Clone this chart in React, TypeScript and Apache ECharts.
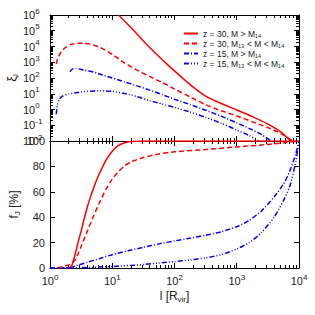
import React, { useEffect, useRef } from 'react';
import * as echarts from 'echarts';

// ---------- data ----------
const seriesNames = [
  'z = 30, M > M₁₄',
  'z = 30, M₁₃ < M < M₁₄',
  'z = 15, M > M₁₄',
  'z = 15, M₁₃ < M < M₁₄',
];
const seriesColors = ['#ff0000', '#ff0000', '#0000ff', '#0000ff'];

// top panel: log10(l / R_vir) and log10(xi_l)
const xiZ30HighLogL = [1.10, 1.3, 1.5, 1.7, 1.9, 2.1, 2.3, 2.5, 2.75, 3.0, 3.25, 3.5, 3.7, 3.87];
const xiZ30HighLogXi = [6.0, 5.2, 4.35, 3.55, 2.8, 2.1, 1.42, 0.85, 0.38, -0.03, -0.45, -0.93, -1.4, -2.0];

const xiZ30LowLogL = [0.10, 0.13, 0.18, 0.25, 0.35, 0.45, 0.55, 0.65, 0.8, 1.0, 1.2, 1.4, 1.6, 1.8, 2.0, 2.25, 2.5, 2.75, 3.0, 3.25, 3.5, 3.7, 3.9];
const xiZ30LowLogXi = [2.9, 3.3, 3.65, 3.95, 4.15, 4.2, 4.2, 4.15, 3.95, 3.5, 2.95, 2.5, 2.1, 1.72, 1.3, 0.8, 0.3, -0.08, -0.41, -0.78, -1.15, -1.5, -2.0];

const xiZ15HighLogL = [0.32, 0.36, 0.42, 0.55, 0.7, 0.85, 1.0, 1.2, 1.4, 1.6, 1.8, 2.0, 2.25, 2.5, 2.75, 3.0, 3.2, 3.4, 3.55];
const xiZ15HighLogXi = [2.4, 2.58, 2.6, 2.5, 2.38, 2.18, 2.0, 1.75, 1.5, 1.23, 0.95, 0.65, 0.32, -0.05, -0.42, -0.85, -1.2, -1.6, -2.0];

const xiZ15LowLogL = [0.10, 0.12, 0.15, 0.2, 0.3, 0.45, 0.6, 0.8, 1.0, 1.2, 1.4, 1.6, 1.8, 2.0, 2.25, 2.5, 2.75, 3.0, 3.2, 3.35];
const xiZ15LowLogXi = [-0.3, 0.3, 0.65, 0.85, 0.98, 1.08, 1.15, 1.19, 1.15, 1.02, 0.82, 0.56, 0.35, 0.13, -0.16, -0.5, -0.87, -1.3, -1.65, -2.0];

// bottom panel: log10(l / R_vir) and f_J [%]
const fZ30HighLogL = [0.30, 0.35, 0.40, 0.45, 0.5, 0.55, 0.6, 0.65, 0.7, 0.75, 0.8, 0.9, 1.0, 1.1, 1.2, 1.35, 1.6, 2.5, 3.5, 4.0];
const fZ30High = [0, 2, 10, 20, 29, 39, 48, 56, 63, 69.5, 75, 85, 92, 96.5, 98.7, 99.8, 100, 100, 100, 100];

const fZ30LowLogL = [0.12, 0.2, 0.3, 0.4, 0.45, 0.5, 0.6, 0.7, 0.8, 0.9, 1.0, 1.1, 1.2, 1.3, 1.5, 1.75, 2.0, 2.5, 3.0, 3.5, 3.8, 4.0];
const fZ30Low = [0, 1, 2.5, 6, 11, 17, 29, 41, 52, 62, 70, 76, 80.5, 83.5, 87, 89.8, 91.5, 93.3, 95.3, 97.3, 98.8, 100];

const fZ15HighLogL = [0, 0.3, 0.4, 0.6, 0.8, 1.0, 1.25, 1.5, 1.75, 2.0, 2.25, 2.5, 2.75, 3.0, 3.2, 3.4, 3.6, 3.75, 3.85, 3.95, 4.0];
const fZ15High = [0, 0, 1.5, 4.5, 7.5, 10.5, 13.5, 16.3, 19, 21.3, 23.5, 25.8, 28.5, 32.5, 37.5, 45, 56, 66, 76, 90, 100];

const fZ15LowLogL = [0, 0.5, 1.0, 1.5, 1.75, 2.0, 2.25, 2.5, 2.75, 3.0, 3.2, 3.4, 3.6, 3.75, 3.85, 3.95, 4.0];
const fZ15Low = [0, 0.3, 1.2, 2.7, 3.9, 5, 6.3, 8, 10.5, 15, 20, 28, 40, 53, 64, 84, 100];

// axis ranges / ticks
const xMin = 1;
const xMax = 10000;
const xiMin = 0.01;
const xiMax = 1e6;
const fMin = 0;
const fMax = 100;
const fInterval = 20;

// ---------- helpers ----------
const FONT = 'Liberation Sans, Arial, sans-serif';
const TXT = '#222';
const BLACK = '#000';

const logPairs = (lx: number[], ly: number[]) => lx.map((v, i) => [Math.pow(10, v), Math.pow(10, ly[i])]);
const pairs = (lx: number[], y: number[]) => lx.map((v, i) => [Math.pow(10, v), y[i]]);

const dashes: any[] = ['solid', [5, 3], [5, 2, 1, 2], [5, 2, 1, 2, 1, 2, 1, 2]];

const supRich = {
  b: { fontSize: 11, fontFamily: FONT, color: TXT, lineHeight: 16, verticalAlign: 'middle' },
  s: { fontSize: 8, fontFamily: FONT, color: TXT, lineHeight: 8, verticalAlign: 'top' },
};
const decadeFormatter = (v: number) => {
  const e = Math.round(Math.log10(v));
  return `{b|10}{s|${e}}`;
};

const subRich = (size: number) => ({
  b: { fontSize: size, fontFamily: FONT, color: TXT, lineHeight: 15, verticalAlign: 'middle' },
  s: { fontSize: 8, fontFamily: FONT, color: TXT, lineHeight: 7, verticalAlign: 'bottom' },
});

const lineAxis = { show: true, onZero: false, lineStyle: { color: BLACK, width: 1 } };

function logX(gridIndex: number, position: 'top' | 'bottom', labels: boolean): any {
  return {
    type: 'log',
    logBase: 10,
    gridIndex,
    position,
    min: xMin,
    max: xMax,
    splitNumber: 4,
    axisLine: lineAxis,
    axisTick: { show: true, inside: true, length: 5, lineStyle: { color: BLACK } },
    minorTick: { show: true, splitNumber: 9, length: 3, lineStyle: { color: BLACK } },
    splitLine: { show: false },
    minorSplitLine: { show: false },
    axisLabel: labels
      ? { show: true, margin: 5, formatter: decadeFormatter, rich: supRich }
      : { show: false },
  };
}

export default function App() {
  const ref = useRef<HTMLDivElement>(null);
  useEffect(() => {
    const chart = echarts.init(ref.current!, null, { renderer: 'svg' });

    const topData = [
      logPairs(xiZ30HighLogL, xiZ30HighLogXi),
      logPairs(xiZ30LowLogL, xiZ30LowLogXi),
      logPairs(xiZ15HighLogL, xiZ15HighLogXi),
      logPairs(xiZ15LowLogL, xiZ15LowLogXi),
    ];
    const botData = [
      pairs(fZ30HighLogL, fZ30High),
      pairs(fZ30LowLogL, fZ30Low),
      pairs(fZ15HighLogL, fZ15High),
      pairs(fZ15LowLogL, fZ15Low),
    ];

    const mk = (data: number[][], i: number, panel: number) => ({
      type: 'line',
      name: seriesNames[i],
      xAxisIndex: panel === 0 ? 0 : 2,
      yAxisIndex: panel === 0 ? 0 : 2,
      data,
      symbol: 'none',
      showSymbol: false,
      smooth: 0.2,
      clip: true,
      lineStyle: { color: seriesColors[i], width: 1.5, type: dashes[i] },
      itemStyle: { color: seriesColors[i] },
      z: 5 - i,
    });

    const option: any = {
      animation: false,
      backgroundColor: '#fff',
      textStyle: { fontFamily: FONT },
      grid: [
        { left: 50, top: 15, width: 249, height: 126, containLabel: false, outerBoundsMode: 'none' },
        { left: 50, top: 141, width: 249, height: 127, containLabel: false, outerBoundsMode: 'none' },
      ],
      legend: {
        data: seriesNames,
        orient: 'vertical',
        left: 178,
        top: 24,
        itemWidth: 14,
        itemHeight: 8,
        itemGap: 1,
        itemStyle: { opacity: 0 },
        textStyle: { fontSize: 8.5, color: TXT, fontFamily: FONT },
        backgroundColor: 'transparent',
      },
      xAxis: [
        logX(0, 'bottom', false),
        logX(0, 'top', false),
        {
          ...logX(1, 'bottom', true),
          name: '{b|l [R}{s|vir}{b|]}',
          nameLocation: 'middle',
          nameGap: 20,
          nameMoveOverlap: false,
          nameTextStyle: { rich: subRich(12) },
        },
        logX(1, 'top', false),
      ],
      yAxis: [
        {
          type: 'log',
          logBase: 10,
          gridIndex: 0,
          position: 'left',
          min: xiMin,
          max: xiMax,
          splitNumber: 8,
          axisLine: lineAxis,
          axisTick: { show: true, inside: true, length: 5, lineStyle: { color: BLACK } },
          minorTick: { show: true, splitNumber: 9, length: 3, lineStyle: { color: BLACK } },
          splitLine: { show: false },
          minorSplitLine: { show: false },
          axisLabel: { show: true, align: 'left', margin: 27, formatter: decadeFormatter, rich: supRich },
          name: '{b|ξ}{s|l}',
          nameLocation: 'middle',
          nameRotate: 90,
          nameGap: 31,
          nameMoveOverlap: false,
          nameTextStyle: { rich: subRich(13) },
        },
        {
          type: 'log',
          logBase: 10,
          gridIndex: 0,
          position: 'right',
          min: xiMin,
          max: xiMax,
          splitNumber: 8,
          axisLine: lineAxis,
          axisTick: { show: true, inside: true, length: 5, lineStyle: { color: BLACK } },
          minorTick: { show: true, splitNumber: 9, length: 3, lineStyle: { color: BLACK } },
          splitLine: { show: false },
          minorSplitLine: { show: false },
          axisLabel: { show: false },
        },
        {
          type: 'value',
          gridIndex: 1,
          position: 'left',
          min: fMin,
          max: fMax,
          interval: fInterval,
          axisLine: lineAxis,
          axisTick: { show: true, inside: true, length: 5, lineStyle: { color: BLACK } },
          splitLine: { show: false },
          axisLabel: { show: true, margin: 5, fontSize: 11, color: TXT, fontFamily: FONT },
          name: '{b|f}{s|J}{b| [%]}',
          nameLocation: 'middle',
          nameRotate: 90,
          nameGap: 29,
          nameMoveOverlap: false,
          nameTextStyle: { rich: subRich(12) },
        },
        {
          type: 'value',
          gridIndex: 1,
          position: 'right',
          min: fMin,
          max: fMax,
          interval: fInterval,
          axisLine: lineAxis,
          axisTick: { show: true, inside: true, length: 5, lineStyle: { color: BLACK } },
          splitLine: { show: false },
          axisLabel: { show: false },
        },
      ],
      series: [
        ...topData.map((d, i) => mk(d, i, 0)),
        ...botData.map((d, i) => mk(d, i, 1)),
      ],
    };

    chart.setOption(option);
    return () => chart.dispose();
  }, []);

  return (
    <div
      ref={ref}
      style={{ position: 'fixed', left: 0, top: 0, width: 315, height: 315 }}
    />
  );
}
